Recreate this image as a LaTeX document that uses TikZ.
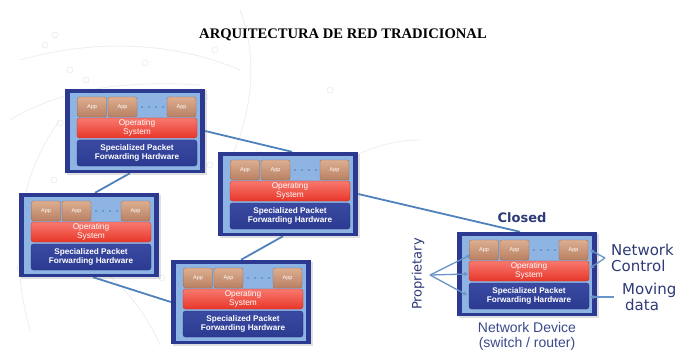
\documentclass[tikz,border=0pt]{standalone}
\usepackage{fontspec}
\setmainfont{Liberation Serif}
\newfontfamily\arialf{Liberation Sans}
\newfontfamily\handf{DejaVu Sans}
\usetikzlibrary{calc,arrows.meta,shadows}
\pgfdeclarelayer{background}
\pgfsetlayers{background,main}
\definecolor{framec}{HTML}{2B3990}
\definecolor{innerc}{HTML}{8EB4E3}
\definecolor{apptop}{HTML}{DDAE90}
\definecolor{appbot}{HTML}{B98063}
\definecolor{ostop}{HTML}{F7796E}
\definecolor{osbot}{HTML}{E9362A}
\definecolor{hwc}{HTML}{2C3B91}
\definecolor{hwtop}{HTML}{3A4AA2}
\definecolor{dotc}{HTML}{6D95CF}
\definecolor{linkc}{HTML}{4F81BD}
\definecolor{annc}{HTML}{2E3A78}
\definecolor{devc}{HTML}{3A4A8C}
\definecolor{bgpat}{HTML}{EDEEF1}
\tikzset{
  frame/.style={fill=framec, minimum width=140pt, minimum height=84pt, inner sep=0pt,
    drop shadow={shadow xshift=1.5pt, shadow yshift=-1.5pt, opacity=0.25}},
  appbox/.style={rounded corners=2pt, top color=apptop, bottom color=appbot, draw=appbot!80!black, line width=0.3pt,
    minimum width=29pt, minimum height=20pt, inner sep=0pt, text=white, font=\arialf\fontsize{5.5}{6}\selectfont},
  osbox/.style={rounded corners=2.5pt, top color=ostop, bottom color=osbot, draw=osbot!85!black, line width=0.3pt,
    minimum width=120pt, minimum height=20pt, inner sep=0pt, text=white, align=center,
    font=\arialf\fontsize{8.3}{8.8}\selectfont},
  hwbox/.style={rounded corners=2.5pt, top color=hwtop, bottom color=hwc, draw=hwc!80!black, line width=0.3pt,
    minimum width=120pt, minimum height=26pt, inner sep=0pt, text=white, align=center,
    font=\arialf\bfseries\fontsize{8.2}{8.8}\selectfont},
  link/.style={draw=linkc, line width=1.8pt},
  annarrow/.style={draw=linkc!85!white, line width=1.3pt, -{Stealth[length=4pt,width=4.5pt]}},
  hand/.style={text=annc, font=\handf\fontsize{15}{15}\selectfont, inner sep=0pt},
  device/.pic={
    \node[frame] (-box) at (70,42) {};
    \fill[innerc] (5,4) rectangle (135,81);
    \node[appbox] (-app1) at (27,18) {App};
    \node[appbox] (-app2) at (57.5,18) {App};
    \node[appbox] (-app3) at (116.5,18) {App};
    \foreach \dx in {77,84,91,98} \fill[dotc] (\dx-1,17) rectangle (\dx+1,19);
    \node[osbox] (-os) at (72,39) {Operating\\System};
    \node[hwbox] (-hw) at (72,64) {Specialized Packet\\Forwarding Hardware};
  }
}
\begin{document}
\begin{tikzpicture}[x=1pt,y=-1pt]
\useasboundingbox (0,0) rectangle (685,350);

\node[font=\bfseries\fontsize{14.6}{17}\selectfont, inner sep=0pt] (title) at (343,35) {ARQUITECTURA DE RED TRADICIONAL};

\pic (d1) at (65,89) {device};
\pic (d2) at (218,152) {device};
\pic (d3) at (19,193) {device};
\pic (d4) at (171,260) {device};
\pic (d5) at (457,232) {device};

\begin{pgfonlayer}{background}
  \fill[white] (0,0) rectangle (685,350);
  % faint background network pattern
  \begin{scope}[draw=bgpat, line width=0.8pt]
    \draw (20,60) .. controls (90,40) and (170,40) .. (240,70);
    \draw (10,120) .. controls (60,90) and (120,80) .. (200,85);
    \draw (30,330) .. controls (10,260) and (15,180) .. (60,120);
    \draw (240,10) .. controls (260,60) and (250,120) .. (230,160);
    \draw (60,240) .. controls (110,270) and (140,300) .. (160,345);
    \draw (330,170) .. controls (360,150) and (390,140) .. (420,140);
    \foreach \cx/\cy in {45,60/123,54/180,55/35,86/80,145/63,112/247,162/278,20/268,205/97,120/95,250/203,215/50,330/90,210/165,300/165,285/292,175/145,150/97,70}
      \draw (\cx,\cy) circle (3pt);
  \end{scope}
  \draw[link] (d1-box.east) -- ($(d2-box.north)+(4,0)$);
  \draw[link] ($(d1-box.south)+(-5,0)$) -- ($(d3-box.north)+(6,0)$);
  \draw[link] ($(d3-box.south)+(4,0)$) -- (d4-box.west);
  \draw[link] ($(d2-box.south)+(-5,0)$) -- (d4-box.north);
  \draw[link] (d2-box.east) -- ($(d5-box.north)+(-7,0)$);
\end{pgfonlayer}

% annotations
\node[hand, font=\handf\bfseries\fontsize{13}{13}\selectfont] (closed) at (522,218) {Closed};
\node[hand, font=\handf\fontsize{13}{13}\selectfont, rotate=90] (prop) at (418,274) {Proprietary};
\node[hand, align=left, font=\handf\fontsize{15}{16.5}\selectfont, anchor=west] (nc) at (611,258) {Network\\Control};
\node[hand, align=left, font=\handf\fontsize{15}{16.5}\selectfont, anchor=west] (md) at (622,297) {Moving\\\hspace*{3pt}data};
\node[text=devc, align=center, font=\arialf\fontsize{14}{15}\selectfont, inner sep=0pt] (devlabel) at (527,336) {Network Device\\(switch / router)};

\coordinate (propsrc) at (430,275);
\coordinate (ncsrc) at (605,258);
\coordinate (mdsrc) at (614,297);
\draw[annarrow] (propsrc) -- ($(d5-app1.west)+(1,5)$);
\draw[annarrow] (propsrc) -- ($(d5-os.west)+(-1,3)$);
\draw[annarrow] (propsrc) -- ($(d5-hw.west)+(-2,-1)$);
\draw[annarrow] (ncsrc) -- ($(d5-app3.east)+(2,0)$);
\draw[annarrow] (ncsrc) -- ($(d5-os.east)+(1,-3)$);
\draw[annarrow] (mdsrc) -- ($(d5-hw.east)+(1,1)$);
\end{tikzpicture}
\end{document}
